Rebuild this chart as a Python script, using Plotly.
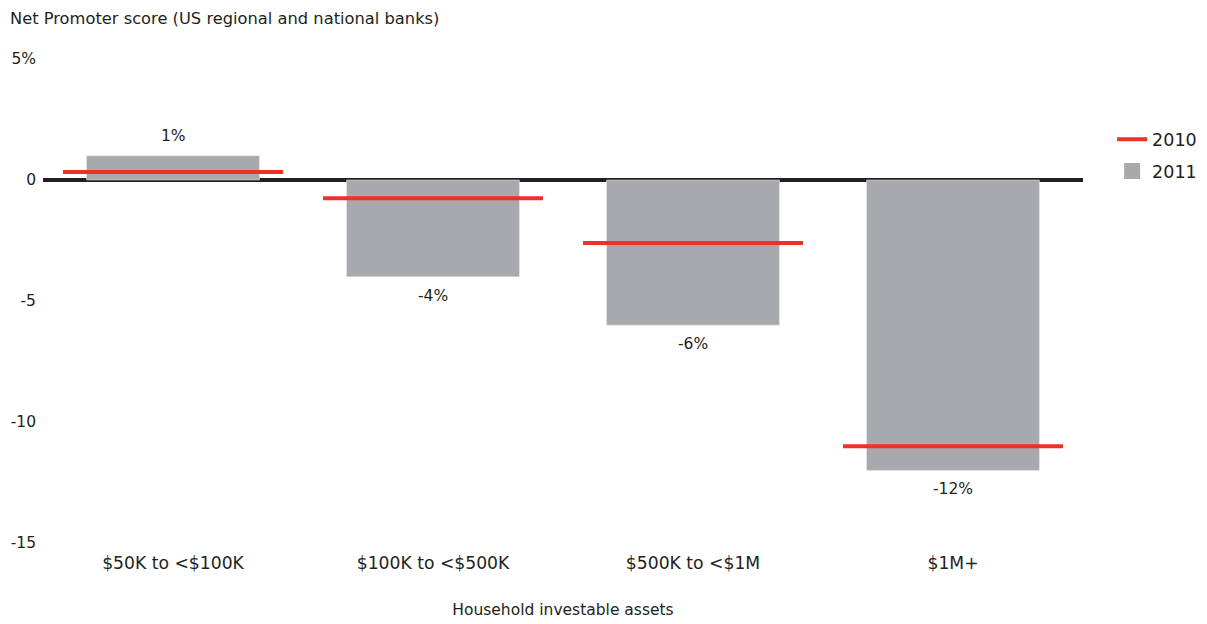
import plotly.graph_objects as go

categories = ["$50K to <$100K", "$100K to <$500K", "$500K to <$1M", "$1M+"]
values_2011 = [1, -4, -6, -12]
values_2010 = [0.33, -0.75, -2.6, -11.0]
labels_2011 = ["1%", "-4%", "-6%", "-12%"]
ytick_vals = [5, 0, -5, -10, -15]
ytick_text = ["5%", "0", "-5", "-10", "-15"]

GRAY = "#A7A9AC"
RED = "#EE3124"
INK = "#231F20"
FONT = "DejaVu Sans"

xpos = list(range(len(categories)))
half = 0.423

fig = go.Figure()
fig.add_trace(go.Bar(
    x=xpos, y=values_2011, width=0.665, marker_color=GRAY,
    name="2011", showlegend=False, hoverinfo="skip"))

seg_x, seg_y = [], []
for i, v in zip(xpos, values_2010):
    seg_x += [i - half, i + half, None]
    seg_y += [v, v, None]
fig.add_trace(go.Scatter(
    x=seg_x, y=seg_y, mode="lines", line=dict(color=RED, width=4),
    name="2010", legendrank=1, legendgroup="a"))
fig.add_trace(go.Scatter(
    x=[None], y=[None], mode="markers",
    marker=dict(symbol="square", size=16, color=GRAY),
    name="2011", legendrank=2, legendgroup="b"))

for i, v, t in zip(xpos, values_2011, labels_2011):
    fig.add_annotation(
        x=i, y=v, text=t, showarrow=False,
        yanchor="bottom" if v > 0 else "top",
        yshift=9 if v > 0 else -8,
        font=dict(size=15.5, color=INK, family=FONT))

fig.update_layout(
    width=1207, height=624,
    margin=dict(l=43, r=124, t=59, b=81, autoexpand=False),
    paper_bgcolor="white", plot_bgcolor="white",
    font=dict(family=FONT, size=15.5, color=INK),
    title=dict(text="Net Promoter score (US regional and national banks)",
               x=10 / 1207, xanchor="left", y=1 - 18 / 624, yanchor="middle",
               font=dict(size=16.3, family=FONT)),
    legend=dict(x=1.028, y=0.871, xanchor="left", yanchor="top",
                font=dict(size=17.5), tracegroupgap=6, itemwidth=30,
                traceorder="grouped"),
    bargap=0.34,
)
fig.update_xaxes(
    range=[-0.5, 3.5], tickvals=xpos, ticktext=categories,
    showgrid=False, showline=False, ticks="", zeroline=False,
    title=dict(text="Household investable assets", standoff=31,
               font=dict(size=15.5)),
    tickfont=dict(size=17.2), ticklabelstandoff=8)
fig.update_yaxes(
    range=[-15, 5], tickvals=ytick_vals, ticktext=ytick_text,
    showgrid=False, showline=False, ticks="",
    zeroline=True, zerolinecolor=INK, zerolinewidth=4,
    tickfont=dict(size=15.5), ticklabelstandoff=6)

fig.write_html("out.html")
